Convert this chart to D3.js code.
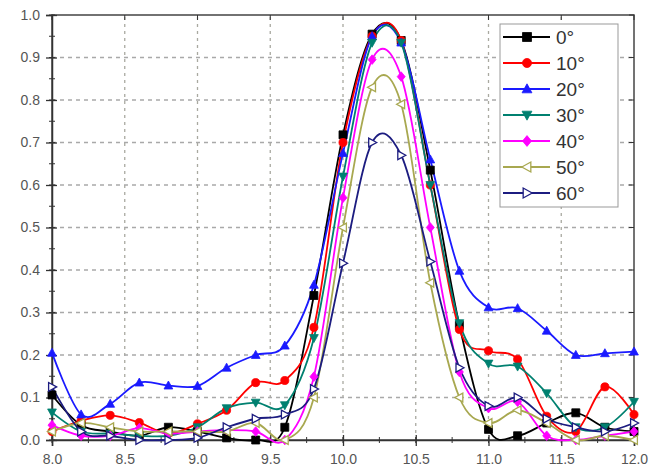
<!DOCTYPE html>
<html>
<head>
<meta charset="utf-8">
<script src="https://cdn.jsdelivr.net/npm/d3@7"></script>
<style>
  html, body { margin: 0; padding: 0; background: #fff; }
  svg { display: block; }
</style>
</head>
<body>
<svg id="chart" width="651" height="475"></svg>
<script>
// ---- data ----
const xValues = [8.0, 8.2, 8.4, 8.6, 8.8, 9.0, 9.2, 9.4, 9.6, 9.8, 10.0, 10.2, 10.4, 10.6, 10.8, 11.0, 11.2, 11.4, 11.6, 11.8, 12.0];
const seriesNames = ["0°", "10°", "20°", "30°", "40°", "50°", "60°"];
const s0  = [0.106, 0.035, 0.02, 0.01, 0.03, 0.02, 0.005, 0.0, 0.03, 0.34, 0.718, 0.955, 0.94, 0.635, 0.27, 0.025, 0.01, 0.04, 0.064, 0.03, 0.02];
const s10 = [0.02, 0.045, 0.058, 0.041, 0.015, 0.038, 0.07, 0.135, 0.14, 0.265, 0.70, 0.95, 0.94, 0.60, 0.26, 0.21, 0.19, 0.056, 0.02, 0.125, 0.06];
const s20 = [0.205, 0.06, 0.085, 0.135, 0.128, 0.127, 0.17, 0.20, 0.222, 0.365, 0.675, 0.95, 0.935, 0.66, 0.398, 0.312, 0.31, 0.257, 0.20, 0.204, 0.208];
const s30 = [0.065, 0.02, 0.015, 0.01, 0.01, 0.03, 0.075, 0.088, 0.082, 0.24, 0.62, 0.935, 0.935, 0.60, 0.275, 0.18, 0.173, 0.11, 0.03, 0.03, 0.09];
const s40 = [0.035, 0.01, 0.01, 0.028, 0.015, 0.02, 0.023, 0.02, 0.0, 0.149, 0.57, 0.895, 0.855, 0.50, 0.16, 0.075, 0.09, 0.01, 0.0, 0.01, 0.02];
const s50 = [0.02, 0.04, 0.03, 0.02, 0.02, 0.02, 0.02, 0.04, 0.0, 0.10, 0.50, 0.83, 0.79, 0.37, 0.10, 0.04, 0.07, 0.04, 0.0, 0.01, 0.0];
const s60 = [0.125, 0.02, 0.01, 0.0, 0.0, 0.005, 0.03, 0.05, 0.06, 0.12, 0.416, 0.70, 0.67, 0.42, 0.17, 0.08, 0.10, 0.05, 0.03, 0.02, 0.04];
const seriesValues = [s0, s10, s20, s30, s40, s50, s60];
const colors = ["#000000", "#ff0000", "#1a1aff", "#008070", "#ff00ff", "#a8a850", "#1c1c80"];
const markers = ["square", "circle", "triangleUp", "triangleDown", "diamond", "triangleLeft", "triangleRight"];
const hollow = [false, false, false, false, false, true, true];
const xTicks = [8.0, 8.5, 9.0, 9.5, 10.0, 10.5, 11.0, 11.5, 12.0];
const yTicks = [0.0, 0.1, 0.2, 0.3, 0.4, 0.5, 0.6, 0.7, 0.8, 0.9, 1.0];

// ---- layout ----
const W = 651, H = 475;
const margin = {left: 52, right: 17, top: 15, bottom: 35};
const svg = d3.select("#chart");
const x = d3.scaleLinear().domain([8, 12]).range([margin.left, W - margin.right]);
const y = d3.scaleLinear().domain([0, 1]).range([H - margin.bottom, margin.top]);

// grid
const grid = svg.append("g");
grid.selectAll("line.gx").data(xTicks.slice(1, -1)).join("line")
  .attr("x1", d => x(d)).attr("x2", d => x(d))
  .attr("y1", y(0)).attr("y2", y(1))
  .attr("stroke", "#a9a9a0").attr("stroke-width", 1.3).attr("stroke-dasharray", "3,4");
grid.selectAll("line.gy").data(yTicks.slice(1, -1)).join("line")
  .attr("y1", d => y(d)).attr("y2", d => y(d))
  .attr("x1", x(8)).attr("x2", x(12))
  .attr("stroke", "#a9a9a9").attr("stroke-width", 1.3).attr("stroke-dasharray", "4,4");

// frame
svg.append("rect").attr("x", x(8)).attr("y", y(1))
  .attr("width", x(12) - x(8)).attr("height", y(0) - y(1))
  .attr("fill", "none").attr("stroke", "#444").attr("stroke-width", 1.5);

// axes
const xMinor = d3.range(8, 12.001, 0.25);
const yMinor = d3.range(0, 1.0001, 0.05);
const axisColor = "#333";
const xAxis = svg.append("g").attr("transform", `translate(0,${y(0)})`)
  .call(d3.axisBottom(x).tickValues(xTicks).tickFormat(d3.format(".1f")).tickSize(6).tickPadding(8));
xAxis.select(".domain").attr("stroke", axisColor).attr("stroke-width", 1.5);
xAxis.selectAll(".tick line").attr("stroke", axisColor).attr("stroke-width", 1.3).attr("y1", -5);
xAxis.selectAll("text").attr("font-family", "Arial, 'Liberation Sans', sans-serif").attr("font-size", 14).attr("fill", "#555");
svg.append("g").selectAll("line").data(xMinor).join("line")
  .attr("x1", d => x(d)).attr("x2", d => x(d)).attr("y1", y(0) - 3).attr("y2", y(0) + 3)
  .attr("stroke", axisColor).attr("stroke-width", 1);

const yAxis = svg.append("g").attr("transform", `translate(${x(8)},0)`)
  .call(d3.axisLeft(y).tickValues(yTicks).tickFormat(d3.format(".1f")).tickSize(6).tickPadding(6));
yAxis.select(".domain").attr("stroke", axisColor).attr("stroke-width", 1.5);
yAxis.selectAll(".tick line").attr("stroke", axisColor).attr("stroke-width", 1.3).attr("x1", 5);
yAxis.selectAll("text").attr("font-family", "Arial, 'Liberation Sans', sans-serif").attr("font-size", 14).attr("fill", "#555");
svg.append("g").selectAll("line").data(yMinor).join("line")
  .attr("y1", d => y(d)).attr("y2", d => y(d)).attr("x1", x(8) - 3).attr("x2", x(8) + 3)
  .attr("stroke", axisColor).attr("stroke-width", 1);
// ticks on the right / top borders
svg.append("g").selectAll("line").data(yTicks).join("line")
  .attr("y1", d => y(d)).attr("y2", d => y(d)).attr("x1", x(12) - 5).attr("x2", x(12))
  .attr("stroke", axisColor).attr("stroke-width", 1);
svg.append("g").selectAll("line").data(xTicks).join("line")
  .attr("x1", d => x(d)).attr("x2", d => x(d)).attr("y1", y(1)).attr("y2", y(1) + 5)
  .attr("stroke", axisColor).attr("stroke-width", 1);

// marker paths
function markerPath(type, s) {
  const h = s / 2;
  switch (type) {
    case "square": return `M${-h},${-h}H${h}V${h}H${-h}Z`;
    case "circle": return d3.symbol(d3.symbolCircle, s * s * 0.8)();
    case "triangleUp": return `M0,${-h * 1.15}L${h * 1.1},${h * 0.85}L${-h * 1.1},${h * 0.85}Z`;
    case "triangleDown": return `M0,${h * 1.15}L${h * 1.1},${-h * 0.85}L${-h * 1.1},${-h * 0.85}Z`;
    case "diamond": return `M0,${-h * 1.2}L${h},0L0,${h * 1.2}L${-h},0Z`;
    case "triangleLeft": return `M${-h * 1.15},0L${h * 0.85},${-h * 1.1}L${h * 0.85},${h * 1.1}Z`;
    case "triangleRight": return `M${h * 1.15},0L${-h * 0.85},${-h * 1.1}L${-h * 0.85},${h * 1.1}Z`;
  }
}

// lines (spline through the points)
const line = d3.line().x(d => x(d[0])).y(d => y(d[1])).curve(d3.curveCardinal.tension(0));
const plot = svg.append("g");
seriesValues.forEach((vals, i) => {
  const pts = xValues.map((xv, j) => [xv, vals[j]]);
  plot.append("path").datum(pts).attr("d", line)
    .attr("fill", "none").attr("stroke", colors[i]).attr("stroke-width", 1.8);
});
seriesValues.forEach((vals, i) => {
  const pts = xValues.map((xv, j) => [xv, vals[j]]);
  plot.append("g").selectAll("path").data(pts).join("path")
    .attr("transform", d => `translate(${x(d[0])},${y(d[1])})`)
    .attr("d", markerPath(markers[i], 8))
    .attr("fill", hollow[i] ? "#fff" : colors[i])
    .attr("stroke", colors[i]).attr("stroke-width", hollow[i] ? 1.3 : 0.8);
});

// legend
const lg = svg.append("g");
lg.append("rect").attr("x", 500).attr("y", 24).attr("width", 118).attr("height", 183)
  .attr("fill", "#fff").attr("stroke", "#999").attr("stroke-width", 1);
seriesNames.forEach((name, i) => {
  const cy = 37 + i * 26;
  lg.append("line").attr("x1", 503).attr("x2", 550).attr("y1", cy).attr("y2", cy)
    .attr("stroke", colors[i]).attr("stroke-width", 2);
  lg.append("path").attr("transform", `translate(527,${cy})`).attr("d", markerPath(markers[i], 9))
    .attr("fill", hollow[i] ? "#fff" : colors[i]).attr("stroke", colors[i]).attr("stroke-width", hollow[i] ? 1.3 : 0.8);
  lg.append("text").attr("x", 556).attr("y", cy + 7).text(name)
    .attr("font-family", "Arial, 'Liberation Sans', sans-serif").attr("font-size", 19).attr("fill", "#333");
});
</script>
</body>
</html>
